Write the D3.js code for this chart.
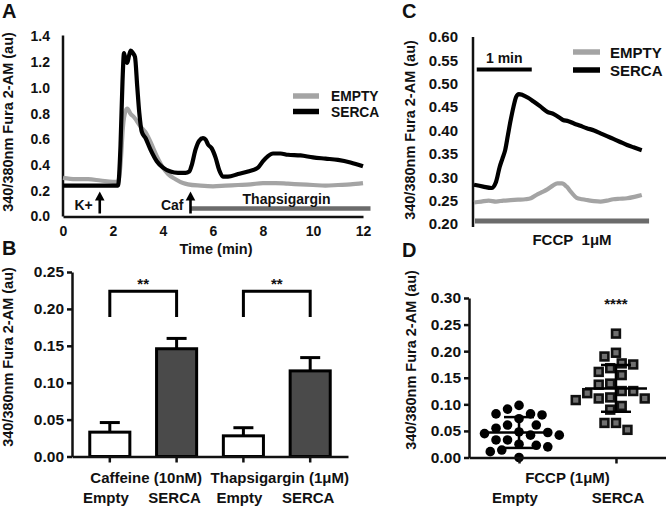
<!DOCTYPE html>
<html><head><meta charset="utf-8">
<script src="https://cdn.jsdelivr.net/npm/d3@7"></script>
<style>
body{margin:0;background:#fff}
svg{display:block;font-family:"Liberation Sans",Arial,sans-serif;font-weight:bold}
</style></head><body>
<svg id="c" width="666" height="507"></svg>
<script>
// ---------- Panel A data (time in min) ----------
const tEmptyA = [0,0.5,1,1.5,2,2.2,2.3,2.4,2.5,2.57,2.7,2.85,3.1,3.35,3.5,3.75,4.0,4.2,4.5,4.8,5.0,5.5,6.0,6.5,7.0,7.5,8.0,8.5,9.0,9.5,10,10.5,11,11.5,12];
const emptyA  = [0.30,0.29,0.29,0.28,0.27,0.27,0.40,0.70,0.82,0.84,0.80,0.77,0.70,0.64,0.58,0.47,0.38,0.33,0.29,0.26,0.25,0.24,0.235,0.24,0.245,0.25,0.26,0.26,0.255,0.25,0.245,0.24,0.245,0.25,0.26];
const tSercaA = [0,0.5,1,1.5,2,2.2,2.3,2.38,2.44,2.5,2.57,2.64,2.71,2.8,2.88,2.97,3.05,3.15,3.3,3.5,3.75,4.0,4.3,4.6,4.9,5.05,5.15,5.3,5.45,5.6,5.7,5.8,5.95,6.1,6.25,6.4,6.6,7.0,7.4,7.8,8.0,8.2,8.4,8.7,9.0,9.5,10.0,10.5,11.0,11.5,12.0];
const sercaA  = [0.24,0.24,0.24,0.24,0.24,0.24,0.55,1.05,1.27,1.22,1.195,1.25,1.29,1.27,1.24,1.01,0.81,0.66,0.61,0.52,0.43,0.38,0.35,0.34,0.34,0.35,0.40,0.52,0.59,0.61,0.60,0.56,0.53,0.46,0.36,0.31,0.31,0.33,0.35,0.38,0.43,0.47,0.49,0.49,0.48,0.475,0.46,0.45,0.44,0.42,0.39];
const aXTicks = [0,2,4,6,8,10,12];
const aYTicks = [0,0.2,0.4,0.6,0.8,1.0,1.2,1.4];
const aStimuli = [{label:"K+", t:1.47},{label:"Caf", t:5.1}];
const thapsSpan = [5.1, 12.3];
const seriesNames = ["EMPTY","SERCA"];

// ---------- Panel B data ----------
const bGroups = ["Caffeine (10nM)","Thapsigargin (1\u03bcM)"];
const bConditions = ["Empty","SERCA"];
const bMeans  = [0.033,0.146,0.028,0.116];
const bErrors = [0.013,0.014,0.011,0.018];
const bSig = ["**","**"];
const bBracket = [0.189,0.224];
const bYTicks = [0,0.05,0.10,0.15,0.20,0.25];

// ---------- Panel C data (time in s) ----------
const tEmptyC = [0,8,16,24,32,40,48,56,62,68,74,80,86,91,96,101,106,112,118,124,131,138,145,152,159,167,175,183];
const emptyC  = [0.246,0.248,0.25,0.248,0.25,0.251,0.252,0.253,0.255,0.262,0.268,0.274,0.282,0.287,0.287,0.28,0.268,0.256,0.253,0.251,0.249,0.248,0.25,0.253,0.254,0.255,0.258,0.262];
const tSercaC = [0,10,19,24,28,31,34,37,40,43,46,49,53,59,65,72,80,87,93,97,103,109,116,123,131,138,145,152,159,167,174,183];
const sercaC  = [0.284,0.28,0.277,0.29,0.322,0.34,0.358,0.39,0.422,0.45,0.472,0.478,0.476,0.47,0.462,0.452,0.44,0.435,0.428,0.4225,0.42,0.415,0.41,0.405,0.4,0.394,0.388,0.382,0.376,0.369,0.364,0.358];
const cYTicks = [0.20,0.25,0.30,0.35,0.40,0.45,0.50,0.55,0.60];
const fccpSpan = [1,191];
const scaleBarC = [3,63];

// ---------- Panel D data ----------
const dEmpty = [0.098,0.091,0.082,0.082,0.080,0.073,0.061,0.061,0.055,0.048,0.047,0.045,0.042,0.042,0.033,0.033,0.025,0.023,0.020,0.014,0.011,0.000];
const dSerca = [0.233,0.197,0.190,0.177,0.175,0.168,0.161,0.155,0.139,0.137,0.125,0.125,0.121,0.113,0.111,0.111,0.108,0.097,0.090,0.065,0.065,0.052];
const dMean = [0.047,0.130];
const dSD = [0.029,0.044];
const dYTicks = [0,0.05,0.10,0.15,0.20,0.25,0.30];
const dGroupLabel = "FCCP (1\u03bcM)";
const dSig = "****";

const yTitle = "340/380nm Fura 2-AM (au)";
const INK = "#111";
const GRAY = "#a4a4a4";
const BARGRAY = "#6b6b6b";

const svg = d3.select("#c");

function styleAxis(g, fs){
  g.select(".domain").attr("stroke", INK).attr("stroke-width", 2.5);
  g.selectAll(".tick line").attr("stroke", INK).attr("stroke-width", 2.5);
  g.selectAll(".tick text").attr("fill", INK).attr("font-size", fs).attr("font-weight","bold")
    .attr("font-family",'"Liberation Sans",Arial,sans-serif');
}
function letter(t,x,y){ svg.append("text").attr("x",x).attr("y",y).attr("font-size",20).attr("fill",INK).text(t); }
function ytitle(x,y){
  svg.append("text").attr("transform",`translate(${x},${y}) rotate(-90)`)
    .attr("text-anchor","middle").attr("dominant-baseline","central")
    .attr("font-size",14.5).attr("fill",INK).text(yTitle);
}
function txt(t,x,y,fs,anchor){
  return svg.append("text").attr("x",x).attr("y",y).attr("font-size",fs||14)
    .attr("text-anchor",anchor||"middle").attr("fill",INK).text(t);
}

// ================= Panel A =================
{
  const xA = d3.scaleLinear().domain([0,12]).range([63,363]);
  const yA = d3.scaleLinear().domain([0,1.4]).range([216.5,36.5]);
  const gx = svg.append("g").attr("transform",`translate(0,${yA(0)})`)
    .call(d3.axisBottom(xA).tickValues(aXTicks).tickSize(0).tickPadding(10).tickFormat(d3.format("d")));
  styleAxis(gx,14);
  const gy = svg.append("g").attr("transform",`translate(${xA(0)},0)`)
    .call(d3.axisLeft(yA).tickValues(aYTicks).tickSize(0).tickPadding(13).tickFormat(d3.format(".1f")));
  styleAxis(gy,14);
  gy.select(".domain").attr("d",`M0,${yA(1.4)-1}V${yA(0)}`);

  const line = d3.line().curve(d3.curveMonotoneX);
  svg.append("path").attr("d", line(tEmptyA.map((t,i)=>[xA(t),yA(emptyA[i])])))
    .attr("fill","none").attr("stroke",GRAY).attr("stroke-width",4.2).attr("stroke-linejoin","round");
  svg.append("path").attr("d", line(tSercaA.map((t,i)=>[xA(t),yA(sercaA[i])])))
    .attr("fill","none").attr("stroke","#000").attr("stroke-width",4.2).attr("stroke-linejoin","round");

  // thapsigargin bar
  svg.append("line").attr("x1",xA(thapsSpan[0])).attr("x2",xA(thapsSpan[1]))
    .attr("y1",yA(0)-8).attr("y2",yA(0)-8).attr("stroke",BARGRAY).attr("stroke-width",4.5);
  txt("Thapsigargin", (xA(thapsSpan[0])+xA(thapsSpan[1]))/2+6, yA(0)-13, 14);

  // stimulus arrows
  aStimuli.forEach(s=>{
    const x = xA(s.t);
    svg.append("line").attr("x1",x).attr("x2",x).attr("y1",yA(0)-3).attr("y2",yA(0)-20)
      .attr("stroke","#000").attr("stroke-width",2.6);
    svg.append("path").attr("d",`M${x},${yA(0)-25}L${x-4.8},${yA(0)-16}L${x+4.8},${yA(0)-16}Z`).attr("fill","#000");
    txt(s.label, x-7, yA(0)-6.5, 14, "end");
  });

  // legend
  const lg = [{c:GRAY,y:96},{c:"#000",y:111.5}];
  lg.forEach((d,i)=>{
    svg.append("line").attr("x1",293).attr("x2",319).attr("y1",d.y).attr("y2",d.y)
      .attr("stroke",d.c).attr("stroke-width",5.5);
    txt(seriesNames[i],331,d.y+5.3,13.8,"start");
  });
  txt("Time (min)", 216, 254, 14.5);
  ytitle(8,122);
  letter("A",2,18);
}

// ================= Panel B =================
{
  const keys = bGroups.flatMap(g=>bConditions.map(c=>g+"|"+c));
  const xB = d3.scaleBand().domain(keys).range([72,348]).paddingInner(0.4).paddingOuter(0.266);
  const yB = d3.scaleLinear().domain([0,0.25]).range([456.5,272]);
  const cx = k => xB(k)+xB.bandwidth()/2;

  keys.forEach((k,i)=>{
    const v = bMeans[i], e = bErrors[i];
    svg.append("line").attr("x1",cx(k)).attr("x2",cx(k)).attr("y1",yB(v)).attr("y2",yB(v+e))
      .attr("stroke","#000").attr("stroke-width",3);
    svg.append("line").attr("x1",cx(k)-10).attr("x2",cx(k)+10).attr("y1",yB(v+e)).attr("y2",yB(v+e))
      .attr("stroke","#000").attr("stroke-width",3);
    svg.append("rect").attr("x",xB(k)).attr("width",xB.bandwidth())
      .attr("y",yB(v)).attr("height",yB(0)-yB(v))
      .attr("fill", i%2===0 ? "#fff" : "#4a4a4a").attr("stroke","#000").attr("stroke-width",3);
  });

  const gy = svg.append("g").attr("transform",`translate(72,0)`)
    .call(d3.axisLeft(yB).tickValues(bYTicks).tickSize(5).tickSizeOuter(0).tickPadding(3).tickFormat(d3.format(".2f")));
  styleAxis(gy,15.5);
  const gx = svg.append("g").attr("transform",`translate(0,${yB(0)})`)
    .call(d3.axisBottom(xB).tickSize(6).tickSizeOuter(0).tickFormat(""));
  styleAxis(gx,14);

  bGroups.forEach((g,gi)=>{
    const x1 = cx(g+"|"+bConditions[0]), x2 = cx(g+"|"+bConditions[1]);
    svg.append("path").attr("d",`M${x1},${yB(bBracket[0])}V${yB(bBracket[1])}H${x2}V${yB(bBracket[0])}`)
      .attr("fill","none").attr("stroke","#000").attr("stroke-width",3);
    txt(bSig[gi],(x1+x2)/2,yB(bBracket[1])-2,15);
    txt(g,(x1+x2)/2+3,483,15);
    bConditions.forEach(c=>txt(c,cx(g+"|"+c)-(c==="Empty"?4:2),503,15));
  });
  ytitle(8,357);
  letter("B",2,255);
}

// ================= Panel C =================
{
  const xC = d3.scaleLinear().domain([0,180]).range([474,639]);
  const yC = d3.scaleLinear().domain([0.2,0.6]).range([224,37]);
  const gy = svg.append("g").attr("transform",`translate(473,0)`)
    .call(d3.axisLeft(yC).tickValues(cYTicks).tickSize(0).tickPadding(15).tickFormat(d3.format(".2f")));
  styleAxis(gy,15);
  gy.select(".domain").attr("d",`M0,${yC(0.6)}V${yC(0.2)+3}`);

  const line = d3.line().curve(d3.curveMonotoneX);
  svg.append("path").attr("d", line(tEmptyC.map((t,i)=>[xC(t),yC(emptyC[i])])))
    .attr("fill","none").attr("stroke",GRAY).attr("stroke-width",4.2);
  svg.append("path").attr("d", line(tSercaC.map((t,i)=>[xC(t),yC(sercaC[i])])))
    .attr("fill","none").attr("stroke","#000").attr("stroke-width",4.2);

  svg.append("line").attr("x1",xC(fccpSpan[0])).attr("x2",xC(fccpSpan[1]))
    .attr("y1",yC(0.2)-3).attr("y2",yC(0.2)-3).attr("stroke",BARGRAY).attr("stroke-width",5);
  txt("FCCP\u00a0\u00a01\u03bcM",572,245,15);

  svg.append("line").attr("x1",xC(scaleBarC[0])).attr("x2",xC(scaleBarC[1]))
    .attr("y1",69.5).attr("y2",69.5).attr("stroke","#000").attr("stroke-width",4);
  txt("1 min",(xC(scaleBarC[0])+xC(scaleBarC[1]))/2,63,14);

  const lg = [{c:GRAY,y:52},{c:"#000",y:70}];
  lg.forEach((d,i)=>{
    svg.append("line").attr("x1",573).attr("x2",600).attr("y1",d.y).attr("y2",d.y)
      .attr("stroke",d.c).attr("stroke-width",5.5);
    txt(seriesNames[i],610,d.y+5.5,15,"start");
  });
  ytitle(410,130);
  letter("C",402,18);
}

// ================= Panel D =================
{
  const xD = d3.scalePoint().domain(bConditions).range([469,666]).padding(0.516);
  const yD = d3.scaleLinear().domain([0,0.30]).range([457.5,298]);

  function dodge(vals, cx, diam, step){
    const placed = [];
    const order = vals.map((v,i)=>i).sort((a,b)=>vals[b]-vals[a]);
    order.forEach(i=>{
      const y = yD(vals[i]);
      for(let k=0;k<200;k++){
        const off = (k%2===0?1:-1)*Math.ceil(k/2)*step;
        const x = cx+off;
        if(placed.every(p=>Math.hypot(p.x-x,p.y-y)>=diam)){ placed.push({x,y,v:vals[i]}); break; }
      }
    });
    return placed;
  }
  const ptsE = dodge(dEmpty, xD("Empty"), 11.5, 5.75);
  const ptsS = dodge(dSerca, xD("SERCA"), 11.5, 5.75);

  svg.selectAll(null).data(ptsE).join("circle").attr("cx",d=>d.x).attr("cy",d=>d.y).attr("r",4.8).attr("fill","#000");
  svg.selectAll(null).data(ptsS).join("rect").attr("x",d=>d.x-3.9).attr("y",d=>d.y-3.9)
    .attr("width",7.8).attr("height",7.8).attr("fill","#707070").attr("stroke","#111").attr("stroke-width",2.6);

  bConditions.forEach((c,i)=>{
    const x = xD(c), m = dMean[i], s = dSD[i];
    const g = svg.append("g").attr("stroke","#000").attr("stroke-width",2.5);
    g.append("line").attr("x1",x-31).attr("x2",x+31).attr("y1",yD(m)).attr("y2",yD(m));
    g.append("line").attr("x1",x).attr("x2",x).attr("y1",yD(m-s)).attr("y2",yD(m+s));
    g.append("line").attr("x1",x-15).attr("x2",x+15).attr("y1",yD(m-s)).attr("y2",yD(m-s));
    g.append("line").attr("x1",x-15).attr("x2",x+15).attr("y1",yD(m+s)).attr("y2",yD(m+s));
  });

  const gy = svg.append("g").attr("transform",`translate(469,0)`)
    .call(d3.axisLeft(yD).tickValues(dYTicks).tickSize(5).tickSizeOuter(0).tickPadding(3).tickFormat(d3.format(".2f")));
  styleAxis(gy,15.5);
  const gx = svg.append("g").attr("transform",`translate(0,${yD(0)})`)
    .call(d3.axisBottom(xD).tickSize(6).tickSizeOuter(0).tickFormat(""));
  styleAxis(gx,14);

  txt(dSig, xD("SERCA"), 309, 15);
  txt(dGroupLabel,(xD("Empty")+xD("SERCA"))/2,483,15);
  txt("Empty",xD("Empty")-4,503,15);
  txt("SERCA",xD("SERCA")+2,503,15);
  ytitle(411,360);
  letter("D",402,257);
}
</script>
</body></html>
